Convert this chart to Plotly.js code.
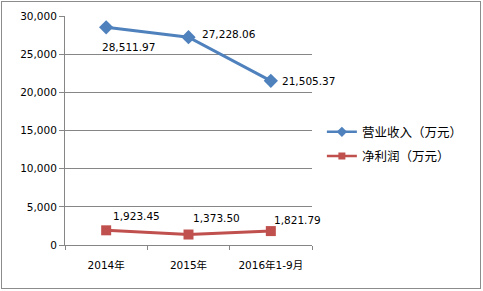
<!DOCTYPE html>
<html><head><meta charset="utf-8">
<script src="https://cdn.plot.ly/plotly-3.0.1.min.js"></script>
<style>body{margin:0;background:#fff}#wrap{position:relative;width:483px;height:291px}#c{width:483px;height:291px}#b{position:absolute;left:1px;top:1px;width:478px;height:286px;border:1px solid #8c8c8c;pointer-events:none}</style>
</head><body><div id="wrap"><div id="c"></div><div id="b"></div></div>
<script>
const categories = ['2014年', '2015年', '2016年1-9月'];
const revenue = [28511.97, 27228.06, 21505.37];
const profit = [1923.45, 1373.50, 1821.79];
const seriesNames = ['营业收入（万元）', '净利润（万元）'];
const yTicks = [0, 5000, 10000, 15000, 20000, 25000, 30000];

const numFont = 'DejaVu Sans, Noto Sans CJK SC, sans-serif';
const cjkFont = 'Noto Sans CJK SC, DejaVu Sans, sans-serif';
const fmt = v => v.toLocaleString('en-US', {minimumFractionDigits: 2, maximumFractionDigits: 2});
const BLUE = '#4F81BD', RED = '#C0504D';

const traces = [
  {x: categories, y: revenue, name: seriesNames[0], type: 'scatter', mode: 'lines+markers', showlegend: false,
   line: {color: BLUE, width: 3}, marker: {symbol: 'diamond', size: 11, color: BLUE}},
  {x: categories, y: profit, name: seriesNames[1], type: 'scatter', mode: 'lines+markers', showlegend: false,
   line: {color: RED, width: 3}, marker: {symbol: 'square', size: 10, color: RED}},
  // legend entries (smaller symbols, as in the original legend)
  {x: [null], y: [null], name: seriesNames[0], type: 'scatter', mode: 'lines+markers', legendgroup: 'a',
   line: {color: BLUE, width: 2.5}, marker: {symbol: 'diamond', size: 8, color: BLUE}},
  {x: [null], y: [null], name: seriesNames[1], type: 'scatter', mode: 'lines+markers', legendgroup: 'b',
   line: {color: RED, width: 2.5}, marker: {symbol: 'square', size: 7, color: RED}}
];

const revShift = [[22, -20], [40, 3], [38, 0]];
const profShift = [[30, 14], [28, 17], [27, 11]];
const annotations = [];
revenue.forEach((v, i) => annotations.push({x: i, y: v, text: fmt(v), showarrow: false,
  xshift: revShift[i][0], yshift: revShift[i][1], font: {family: numFont, size: 10.5, color: '#000'}}));
profit.forEach((v, i) => annotations.push({x: i, y: v, text: fmt(v), showarrow: false,
  xshift: profShift[i][0], yshift: profShift[i][1], font: {family: numFont, size: 10.5, color: '#000'}}));

const layout = {
  width: 483, height: 291,
  margin: {l: 65, r: 171, t: 16, b: 46, pad: 0, autoexpand: false},
  paper_bgcolor: '#fff', plot_bgcolor: '#fff',
  showlegend: true,
  legend: {x: 1.04, y: 0.558, xanchor: 'left', yanchor: 'top', traceorder: 'grouped', tracegroupgap: 5,
    font: {family: cjkFont, size: 12.5, color: '#000'}, bgcolor: 'rgba(0,0,0,0)'},
  xaxis: {type: 'category', range: [-0.5, 2.5], autorange: false, automargin: false,
    tickson: 'boundaries', ticks: 'outside', ticklen: 4, tickcolor: '#868686',
    showline: true, linecolor: '#868686', linewidth: 1, showgrid: false, zeroline: false, ticklabelstandoff: 10,
    tickfont: {family: numFont, size: 10.5, color: '#000'}, fixedrange: true},
  yaxis: {range: [0, 30000], autorange: false, automargin: false, tickvals: yTicks, tickformat: ',d',
    ticks: 'outside', ticklen: 5, tickcolor: '#868686',
    showline: true, linecolor: '#868686', gridcolor: '#868686', gridwidth: 1, zeroline: false,
    tickfont: {family: numFont, size: 10.5, color: '#000'}, fixedrange: true},
  annotations: annotations
};
Plotly.newPlot('c', traces, layout, {displayModeBar: false, staticPlot: true});
</script></body></html>
